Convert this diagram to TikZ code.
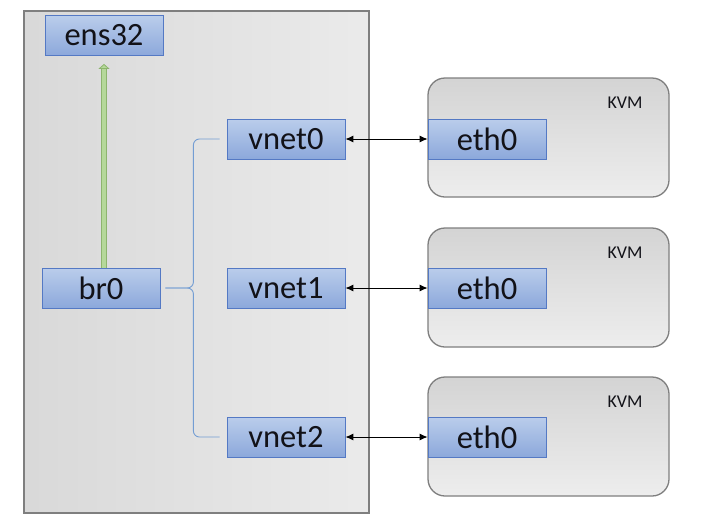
\documentclass[tikz,border=0pt]{standalone}
\usepackage{fontspec}
\setmainfont{Carlito}
\usetikzlibrary{arrows.meta}
\definecolor{boxtop}{HTML}{BACDEB}
\definecolor{boxbot}{HTML}{8CA8DB}
\definecolor{boxedge}{HTML}{5479C4}
\definecolor{hostedge}{HTML}{7F7F7F}
\definecolor{shaftdark}{HTML}{8DB46E}
\definecolor{shaftlight}{HTML}{B5D89A}
\definecolor{bracecol}{HTML}{739DD3}
\definecolor{txtcol}{HTML}{121218}

\begin{document}
\begin{tikzpicture}[x=1pt, y=-1pt,
		iface/.style = {draw=boxedge, line width=0.8pt, top color=boxtop, bottom color=boxbot,
			minimum width=118pt, minimum height=40pt, inner sep=0pt, text=txtcol,
			font=\fontsize{32.5}{36}\selectfont},
		kvmbox/.style = {draw=hostedge, line width=1.3pt, rounded corners=17pt,
			top color=black!17, bottom color=black!7, minimum width=241pt, minimum height=119pt},
		kvmlabel/.style = {anchor=north east, inner sep=0pt, text=txtcol,
			font=\fontsize{18}{20}\selectfont},
		link/.style = {black, line width=0.9pt, {Latex[length=8pt, width=7pt]}-{Latex[length=8pt, width=7pt]}},
		brace/.style = {bracecol, line width=0.9pt, rounded corners=6pt}]
		\useasboundingbox (0, 0) rectangle (719, 523);
		\fill[white] (0, 0) rectangle (719, 523);
		% host
		\node[draw=hostedge, line width=1.3pt, left color=black!15, right color=black!8,
			minimum width=345pt, minimum height=502pt] (host) at (196.5, 262) {};
		\node[iface] (ens32) at (104, 35.5) {ens32};
		\node[iface] (br0) at (101, 288) {br0};
		\node[iface] (vnet0) at (286, 139) {vnet0};
		\node[iface] (vnet1) at (286, 288) {vnet1};
		\node[iface] (vnet2) at (286, 437) {vnet2};
		% guests
		\node[kvmbox] (kvm0) at (548.5, 137.5) {};
		\node[kvmbox] (kvm1) at (548.5, 287.5) {};
		\node[kvmbox] (kvm2) at (548.5, 436.5) {};
		\node[kvmlabel] (kvmname0) at ([xshift=-27pt, yshift=-19pt]kvm0.north east) {KVM};
		\node[kvmlabel] (kvmname1) at ([xshift=-27pt, yshift=-19pt]kvm1.north east) {KVM};
		\node[kvmlabel] (kvmname2) at ([xshift=-27pt, yshift=-19pt]kvm2.north east) {KVM};
		\node[iface] (eth0a) at (487, 139) {eth0};
		\node[iface] (eth0b) at (487, 288) {eth0};
		\node[iface] (eth0c) at (487, 437) {eth0};
		% uplink
		\draw[draw=shaftdark, line width=6.5pt, shorten >=13pt] (br0.north -| ens32.south) -- (ens32.south);
		\draw[draw=shaftlight, line width=4.5pt, shorten >=8pt,
			-{Triangle[length=5pt, width=11pt, fill=shaftlight, color=shaftdark, line width=0.8pt]}]
			(br0.north -| ens32.south) -- (ens32.south);
		% bridge ports
		\draw[brace] ([xshift=5pt]br0.east) -- ++(28, 0) |- ([xshift=-7pt]vnet0.west);
		\draw[brace] ([xshift=5pt]br0.east) -- ++(28, 0) |- ([xshift=-7pt]vnet2.west);
		% taps
		\draw[link] (vnet0) -- (eth0a);
		\draw[link] (vnet1) -- (eth0b);
		\draw[link] (vnet2) -- (eth0c);
	\end{tikzpicture}
\end{document}
